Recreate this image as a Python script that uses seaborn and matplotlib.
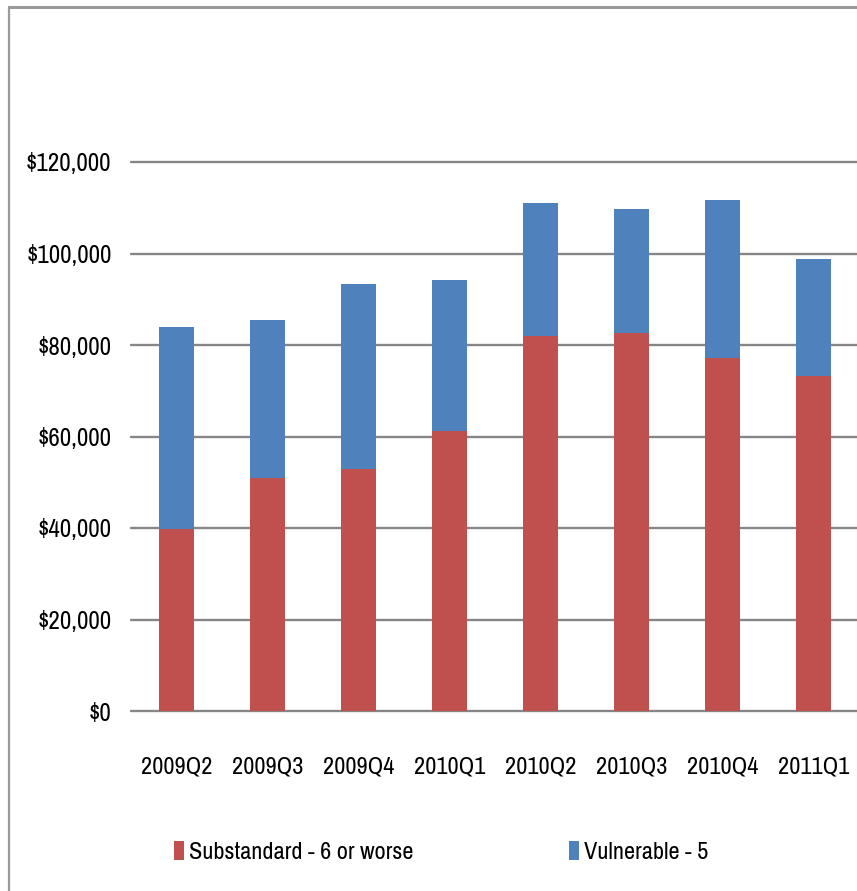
import matplotlib
matplotlib.use("Agg")
import matplotlib.pyplot as plt
import seaborn as sns
import pandas as pd
from matplotlib.lines import Line2D
from matplotlib.patches import Patch
from matplotlib.ticker import FuncFormatter

quarters = ["2009Q2", "2009Q3", "2009Q4", "2010Q1", "2010Q2", "2010Q3", "2010Q4", "2011Q1"]
substandard = [39750, 51000, 53000, 61100, 81900, 82600, 77200, 73200]
vulnerable = [44250, 34400, 40400, 33100, 29100, 27200, 34500, 25600]
series_names = ["Substandard - 6 or worse", "Vulnerable - 5"]
yticks = [0, 20000, 40000, 60000, 80000, 100000, 120000]

RED = "#C0504D"
BLUE = "#4F81BD"
GRID = "#868686"

sns.set_theme(style="white")
plt.rcParams["font.family"] = ["Archivo Narrow", "Carlito", "DejaVu Sans"]

df = pd.DataFrame({"quarter": quarters, "sub": substandard, "vul": vulnerable})
df["total"] = df["sub"] + df["vul"]

fig = plt.figure(figsize=(8.57, 8.91), dpi=100)
ax = fig.add_axes([131 / 857, 180 / 891, 728 / 857, 549 / 891])

sns.barplot(data=df, x="quarter", y="total", color=BLUE, width=0.39,
            saturation=1, edgecolor="none", ax=ax, zorder=3)
sns.barplot(data=df, x="quarter", y="sub", color=RED, width=0.39,
            saturation=1, edgecolor="none", ax=ax, zorder=4)

ax.set_ylim(0, 120000)
ax.set_xlim(-0.5, len(quarters) - 0.5)
ax.set_yticks(yticks)
ax.yaxis.set_major_formatter(FuncFormatter(lambda v, p: "${:,.0f}".format(v)))
ax.set_xlabel("")
ax.set_ylabel("")
for s in ax.spines.values():
    s.set_visible(False)
ax.grid(False)
for t in yticks:
    ax.axhline(t, color=GRID, lw=1.7, zorder=2, clip_on=False)

ax.tick_params(axis="y", length=0, labelsize=18, colors="#000000", pad=14)
ax.tick_params(axis="x", length=0, labelsize=17.5, colors="#000000", pad=33)

handles = [Patch(facecolor=RED, edgecolor="none"), Patch(facecolor=BLUE, edgecolor="none")]
fig.legend(handles, series_names, loc="center", bbox_to_anchor=(441 / 857, 1 - 852 / 891),
           ncol=2, frameon=False, fontsize=17.5, handlelength=0.41, handleheight=0.8,
           handletextpad=0.22, columnspacing=6.4, labelcolor="#000000")

# outer chart frame (top and left edges)
fig.add_artist(Line2D([9 / 857, 1.0], [1 - 7 / 891, 1 - 7 / 891], color="#9a9a9a", lw=2.2,
                      transform=fig.transFigure))
fig.add_artist(Line2D([9 / 857, 9 / 857], [0, 1 - 7 / 891], color="#9a9a9a", lw=1.6,
                      transform=fig.transFigure))

fig.savefig("out.png", dpi=100)
